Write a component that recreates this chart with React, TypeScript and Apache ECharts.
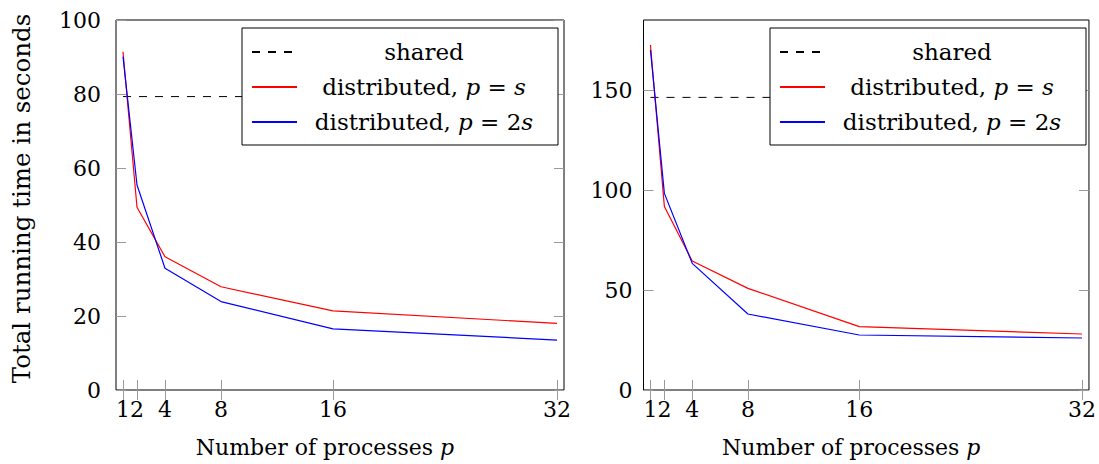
import React, { useEffect, useRef } from "react";
import * as echarts from "echarts";

const processes = [1, 2, 4, 8, 16, 32];

// Left plot
const sharedLeft = 79.3;
const distPsLeft = [91.4, 49.4, 36.0, 27.9, 21.4, 18.0];
const dist2sLeft = [90.1, 55.4, 32.9, 23.9, 16.5, 13.5];
const yTicksLeft = [0, 20, 40, 60, 80, 100];

// Right plot
const sharedRight = 146.3;
const distPsRight = [172.5, 91.7, 64.5, 50.8, 31.7, 28.0];
const dist2sRight = [170.0, 98.3, 63.3, 38.0, 27.5, 26.0];
const yTicksRight = [0, 50, 100, 150];

const FONT = "DejaVu Serif";
const FS = 22;
const LFS = 23;
const TICK = "#9a9a9a";

const NAME_SHARED = "shared";
const NAME_PS = "distributed, p = s";
const NAME_2S = "distributed, p = 2s";

const legendLabel: Record<string, string> = {
  [NAME_SHARED]: "{r|shared}",
  [NAME_PS]: "{r|distributed, }{i|p}{r| = }{i|s}",
  [NAME_2S]: "{r|distributed, }{i|p}{r| = 2}{i|s}",
};

const richLegend = {
  r: { fontFamily: FONT, fontSize: LFS, color: "#000", align: "center" },
  i: { fontFamily: FONT, fontSize: LFS, fontStyle: "italic", color: "#000", align: "center" },
};
const richName = {
  i: { fontFamily: FONT, fontSize: FS, fontStyle: "italic", color: "#000" },
};

function pairs(xs: number[], ys: number[]) {
  return xs.map((x, k) => [x, ys[k]]);
}

export default function App() {
  const ref = useRef<HTMLDivElement>(null);
  useEffect(() => {
    if (!ref.current) return;
    const chart = echarts.init(ref.current, undefined, { renderer: "svg" });

    const grids = [
      { left: 116, top: 20, width: 448, height: 370 },
      { left: 643.5, top: 20, width: 448, height: 370 },
    ];

    const xAxes: any[] = [];
    const yAxes: any[] = [];
    const yMax = [100, 185];
    const yTicks = [yTicksLeft, yTicksRight];
    const yMargins = [15, 11];

    [0, 1].forEach((g) => {
      xAxes.push({
        type: "value",
        gridIndex: g,
        position: "bottom",
        min: 0.5,
        max: 32.5,
        axisLine: { show: false },
        splitLine: { show: false },
        axisTick: {
          show: true,
          inside: true,
          length: 10,
          customValues: processes,
          lineStyle: { color: TICK, width: 1 },
        },
        axisLabel: {
          show: true,
          customValues: processes,
          margin: 8,
          hideOverlap: false,
          fontFamily: FONT,
          fontSize: FS,
          color: "#000",
        },
        name: "Number of processes {i|p}",
        nameLocation: "middle",
        nameGap: 46,
        nameTextStyle: {
          fontFamily: FONT,
          fontSize: FS,
          color: "#000",
          padding: [0, 30, 0, 0],
          rich: richName,
        },
      });
      xAxes.push({
        type: "value",
        gridIndex: g,
        position: "top",
        min: 0.5,
        max: 32.5,
        axisLine: { show: false },
        splitLine: { show: false },
        axisTick: {
          show: true,
          inside: true,
          length: 10,
          customValues: processes,
          lineStyle: { color: TICK, width: 1 },
        },
        axisLabel: { show: false },
      });
      yAxes.push({
        type: "value",
        gridIndex: g,
        position: "left",
        min: 0,
        max: yMax[g],
        axisLine: { show: false },
        splitLine: { show: false },
        axisTick: {
          show: true,
          inside: true,
          length: 10,
          customValues: yTicks[g],
          lineStyle: { color: TICK, width: 1 },
        },
        axisLabel: {
          show: true,
          customValues: yTicks[g],
          margin: yMargins[g],
          fontFamily: FONT,
          fontSize: FS,
          color: "#000",
        },
        name: g === 0 ? "Total running time in seconds" : "",
        nameLocation: "middle",
        nameGap: 82,
        nameTextStyle: {
          fontFamily: FONT,
          fontSize: 24.5,
          color: "#000",
          padding: [0, 0, 0, 13],
        },
      });
      yAxes.push({
        type: "value",
        gridIndex: g,
        position: "right",
        min: 0,
        max: yMax[g],
        axisLine: { show: false },
        splitLine: { show: false },
        axisTick: {
          show: true,
          inside: true,
          length: 10,
          customValues: yTicks[g],
          lineStyle: { color: TICK, width: 1 },
        },
        axisLabel: { show: false },
      });
    });

    const sharedVals = [sharedLeft, sharedRight];
    const psVals = [distPsLeft, distPsRight];
    const s2Vals = [dist2sLeft, dist2sRight];

    const series: any[] = [];
    [0, 1].forEach((g) => {
      const xi = g * 2;
      const yi = g * 2;
      series.push({
        type: "line",
        name: NAME_SHARED,
        xAxisIndex: xi,
        yAxisIndex: yi,
        data: [
          [processes[0], sharedVals[g]],
          [processes[processes.length - 1], sharedVals[g]],
        ],
        symbol: "none",
        lineStyle: { color: "#000", width: 1, type: [8, 8] },
        itemStyle: { color: "#000" },
      });
      series.push({
        type: "line",
        name: NAME_PS,
        xAxisIndex: xi,
        yAxisIndex: yi,
        data: pairs(processes, psVals[g]),
        symbol: "none",
        lineStyle: { color: "#ff0000", width: 1.2 },
        itemStyle: { color: "#ff0000" },
      });
      series.push({
        type: "line",
        name: NAME_2S,
        xAxisIndex: xi,
        yAxisIndex: yi,
        data: pairs(processes, s2Vals[g]),
        symbol: "none",
        lineStyle: { color: "#0000ff", width: 1.2 },
        itemStyle: { color: "#0000ff" },
      });
    });

    const mkLegend = (left: number) => ({
      left,
      top: 28,
      orient: "vertical",
      data: [NAME_SHARED, NAME_PS, NAME_2S],
      backgroundColor: "#fff",
      borderColor: "#000",
      borderWidth: 1,
      borderRadius: 0,
      padding: [10, 12, 9, 9],
      itemWidth: 45,
      itemHeight: 14,
      itemGap: 7,
      itemTextGap: 3,
      selectedMode: false,
      itemStyle: { color: "transparent", borderColor: "transparent", borderWidth: 0 },
      formatter: (name: string) => legendLabel[name],
      textStyle: {
        fontFamily: FONT,
        fontSize: LFS,
        color: "#000",
        width: 244,
        lineHeight: 28,
        rich: richLegend,
      },
    });

    chart.setOption({
      animation: false,
      backgroundColor: "#fff",
      grid: grids.map((g) => ({
        ...g,
        show: true,
        borderColor: "#000",
        borderWidth: 1,
        backgroundColor: "transparent",
      })),
      xAxis: xAxes,
      yAxis: yAxes,
      legend: [mkLegend(242), mkLegend(770)],
      series,
    });

    return () => chart.dispose();
  }, []);

  return (
    <div
      ref={ref}
      style={{ position: "absolute", left: 0, top: 0, width: 1099, height: 464 }}
    />
  );
}
